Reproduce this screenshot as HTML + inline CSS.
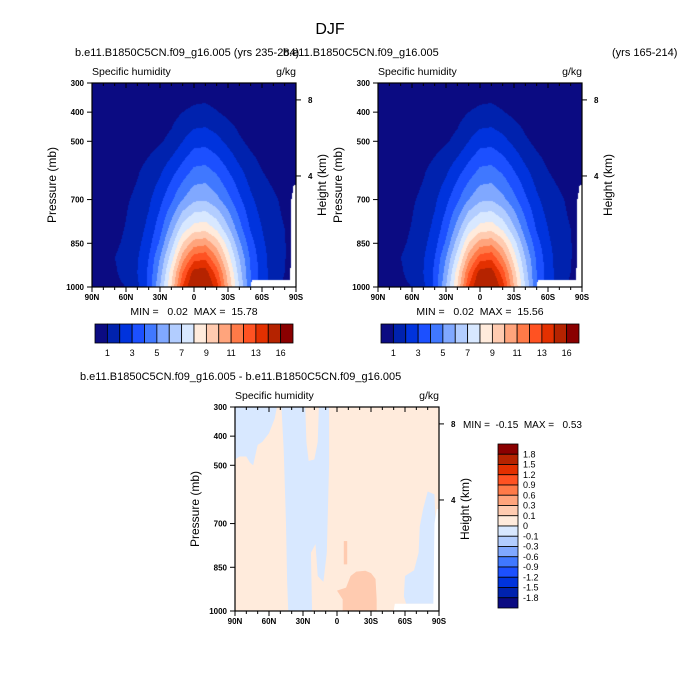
<!DOCTYPE html>
<html><head><meta charset="utf-8"><style>
html,body{margin:0;padding:0;background:#fff;}
#wrap{position:relative;width:680px;height:698px;overflow:hidden;font-family:"Liberation Sans",Arial,sans-serif;}
canvas{position:absolute;}
svg{position:absolute;left:0;top:0;}
text{white-space:pre;}
</style></head><body>
<div id="wrap">
<canvas id="c1" width="204" height="204" style="left:92px;top:83px"></canvas>
<canvas id="c2" width="204" height="204" style="left:378px;top:83px"></canvas>
<svg id="s" width="680" height="698"></svg>
</div>
<script>
const lats=[90,80,70,60,50,40,30,20,10,0,-10,-20,-30,-40,-50,-60,-70,-80,-90];
const plev=[300,400,500,600,700,800,850,900,950,1000];
const q300=[0.05,0.05,0.05,0.05,0.1,0.1,0.15,0.2,0.3,0.4,0.45,0.35,0.25,0.15,0.1,0.05,0.05,0.05,0.05];
const q400=[0.05,0.05,0.1,0.1,0.2,0.3,0.45,0.65,1.0,1.2,1.25,1.05,0.75,0.5,0.3,0.2,0.1,0.1,0.05];
const q500=[0.1,0.1,0.2,0.3,0.45,0.65,0.9,1.25,2.0,2.6,2.7,2.3,1.75,1.15,0.75,0.5,0.3,0.2,0.1];
const q600=[0.1,0.2,0.35,0.6,0.9,1.3,1.8,2.6,3.4,4.2,4.3,3.8,3.0,2.2,1.5,1.0,0.7,0.45,0.1];
const q700=[0.2,0.3,0.55,0.9,1.2,1.8,2.7,3.8,5,5.8,5.9,5.3,4.3,3.2,2.2,1.5,1.15,0.8,0.2];
const q800=[0.3,0.45,0.75,1.05,1.5,2.3,3.6,5.5,7.5,8.5,8.7,7.8,6.2,4.4,2.9,2.0,1.3,1.0,0.3];
const q850=[0.3,0.5,0.85,1.15,1.7,2.6,4.2,6.5,9,10.5,10.7,9.5,7.5,5.2,3.4,2.2,1.45,1.05,0.4];
const q900=[0.3,0.6,1.0,1.3,1.9,3,5,7.5,10.5,12.5,12.8,11,8.5,6,3.8,2.4,1.5,1.05,0.4];
const q950=[0.3,0.6,0.9,1.3,2,3.2,5.5,8.5,12,14.5,14.5,12.5,9.5,6.5,4,2.5,1.5,1.0,0.4];
const q1000=[0.3,0.5,0.8,1.0,1.8,3.2,6,9,13,15.5,15.5,13.5,10,7,4,2.5,1.5,0.8,0.3];
const qGrid=[q300,q400,q500,q600,q700,q800,q850,q900,q950,q1000];
const qEdges=[1,2,3,4,5,6,7,8,9,10,11,12,13,14,16];
const qColors=["#0B0B82","#0022AE","#0033DD","#1C50FF","#4078FF","#80A8FF","#B2CDFF","#D8E8FF","#FFEBDC","#FFCBB0","#FFA47C","#FF7A48","#FF5222","#E33000","#B52300","#8A0000"];
const qLabels=["1","3","5","7","9","11","13","16"];
const sfcLat=[-50,-51,-85,-86,-88,-90];
const sfcP=[1000,975,975,700,650,650];
const dEdges=[1.8,1.5,1.2,0.9,0.6,0.3,0.1,0,-0.1,-0.3,-0.6,-0.9,-1.2,-1.5,-1.8];
const dColors=["#8A0000","#B52300","#E33000","#FF5222","#FF7A48","#FFA47C","#FFCBB0","#FFEBDC","#D8E8FF","#B2CDFF","#80A8FF","#4078FF","#1C50FF","#0033DD","#0022AE","#0B0B82"];
const diffBlueA=[[90,300],[53,300],[55,340],[60,390],[66,420],[70,430],[74,500],[77,490],[80,470],[86,470],[90,480]];
const diffBlueB=[[49,300],[47,450],[45,700],[44,900],[43,1000],[22,1000],[23,800],[19,770],[17,880],[12,900],[9,800],[8,650],[7,500],[7,300],[16,300],[17,420],[20,480],[25,485],[27,420],[28,300]];
const diffBlueD=[[-80,590],[-76,650],[-73,711],[-72,800],[-68,860],[-60,880],[-59,950],[-61,975],[-90,975],[-90,700],[-87,700],[-86,600]];
const diffPeach=[[-5,1000],[-5,960],[0,930],[-8,920],[-12,880],[-17,865],[-25,862],[-30,870],[-34,890],[-35,960],[-35,1000]];
const diffPeach2=[[-6,760],[-9,760],[-9,840],[-6,840]];
const latTicks=[90,60,30,0,-30,-60,-90];
const latLabels=["90N","60N","30N","0","30S","60S","90S"];
const pTicks=[300,400,500,700,850,1000];
const kmTicks=[8,4];
const kmP=[358,619];

const NS="http://www.w3.org/2000/svg";
const svg=document.getElementById('s');
function mk(tag,attrs,parent){const e=document.createElementNS(NS,tag);for(const k in attrs)e.setAttribute(k,attrs[k]);(parent||svg).appendChild(e);return e;}
function txt(x,y,s,size,anchor,name,extra){const t=mk('text',Object.assign({x:x,y:y,'font-size':size,'text-anchor':anchor||'start','font-family':'Liberation Sans, Arial, sans-serif',fill:'#000'},extra||{}));t.textContent=s;


return t;}
function interp1(xs,ys,x){if(x>=xs[0])return ys[0];for(let i=0;i<xs.length-1;i++){if(x<=xs[i]&&x>=xs[i+1]){const f=(xs[i]-x)/(xs[i]-xs[i+1]);return ys[i]+f*(ys[i+1]-ys[i]);}}return ys[ys.length-1];}
function sfc(lat){return interp1(sfcLat,sfcP,lat);}
function qAt(lat,p){let i=0;while(i<lats.length-2&&lat<lats[i+1])i++;const fx=(lats[i]-lat)/(lats[i]-lats[i+1]);
let j=0;while(j<plev.length-2&&p>plev[j+1])j++;const fy=(p-plev[j])/(plev[j+1]-plev[j]);
const a=qGrid[j][i],b=qGrid[j][i+1],c=qGrid[j+1][i],d=qGrid[j+1][i+1];return (a*(1-fx)+b*fx)*(1-fy)+(c*(1-fx)+d*fx)*fy;}
function bin(v){let k=0;while(k<qEdges.length&&v>=qEdges[k])k++;return k;}
function hex(h){return [parseInt(h.substr(1,2),16),parseInt(h.substr(3,2),16),parseInt(h.substr(5,2),16)];}
function drawField(id){const c=document.getElementById(id);const ctx=c.getContext('2d');const im=ctx.createImageData(204,204);
for(let py=0;py<204;py++){const p=300+(py+0.5)/204*700;for(let px=0;px<204;px++){const lat=90-(px+0.5)/204*180;let col=[255,255,255];
if(p<=sfc(lat))col=hex(qColors[bin(qAt(lat,p))]);const o=(py*204+px)*4;im.data[o]=col[0];im.data[o+1]=col[1];im.data[o+2]=col[2];im.data[o+3]=255;}}
ctx.putImageData(im,0,0);}
drawField('c1');drawField('c2');

function axes(X0,Y0,W,H,prefix,label){
  const xs=lat=>X0+(90-lat)/180*W, ys=p=>Y0+(p-300)/700*H;
  for(let l=90;l>=-90;l-=10){const major=(l%30===0);const len=major?5:3;
    const t1=mk('line',{x1:xs(l),x2:xs(l),y1:Y0,y2:Y0+len,stroke:'#000','stroke-width':1});
    
    
    const t2=mk('line',{x1:xs(l),x2:xs(l),y1:Y0+H,y2:Y0+H+len,stroke:'#000','stroke-width':1});
    
    }
  latTicks.forEach((l,i)=>{txt(xs(l),Y0+H+13,latLabels[i],8,'middle',prefix+'-x-tick-label',{'font-weight':'bold'});});
  pTicks.forEach(p=>{const t=mk('line',{x1:X0-5,x2:X0,y1:ys(p),y2:ys(p),stroke:'#000'});
    
    
    txt(X0-8,ys(p)+3,String(p),8,'end',prefix+'-y-tick-label',{'font-weight':'bold'});});
  kmTicks.forEach((k,i)=>{const t=mk('line',{x1:X0+W,x2:X0+W+5,y1:ys(kmP[i]),y2:ys(kmP[i]),stroke:'#000'});
    
    
    txt(X0+W+12,ys(kmP[i])+3,String(k),8,'start',prefix+'-height-tick-label',{'font-weight':'bold'});});
  const b=mk('rect',{x:X0,y:Y0,width:W,height:H,fill:'none',stroke:'#000','stroke-width':1.2});
  
  
  txt(X0,Y0-8,'Specific humidity',10.5,'start',prefix+'-left-string');
  txt(X0+W,Y0-8,'g/kg',10.5,'end',prefix+'-units');
  const cy=Y0+H/2;
  txt(X0-36,cy,'Pressure (mb)',12,'middle',prefix+'-y-axis-title',{transform:`rotate(-90 ${X0-36} ${cy})`});
  txt(X0+W+30,cy,'Height (km)',12,'middle',prefix+'-height-axis-title',{transform:`rotate(-90 ${X0+W+30} ${cy})`});
  if(label)txt(X0+W/2,Y0+H+28,label,10.5,'middle',prefix+'-min-max',{'xml:space':'preserve'});
  return {xs,ys};
}
const DX=235,DY=407,DW=204,DH=204;
const dxs=lat=>DX+(90-lat)/180*DW, dys=p=>DY+(p-300)/700*DH;
const cp=mk('clipPath',{id:'dclip'});mk('rect',{x:DX,y:DY,width:DW,height:DH},cp);
const g=mk('g',{'clip-path':'url(#dclip)'});


const bg=mk('rect',{x:DX,y:DY,width:DW,height:DH,fill:dColors[7]},g);


function poly(pts,fill,name){const e=mk('polygon',{points:pts.map(q=>dxs(q[0])+','+dys(q[1])).join(' '),fill:fill},g);

}
poly(diffBlueA,dColors[8],'diff-negative-region-north');
poly(diffBlueB,dColors[8],'diff-negative-region-tropics');
poly(diffBlueD,dColors[8],'diff-negative-region-south');
poly(diffPeach,dColors[6],'diff-positive-region-surface');
poly(diffPeach2,dColors[6],'diff-positive-blob');
const wp=[];for(let l=-50;l>=-90;l-=1)wp.push([l,sfc(l)]);wp.push([-90,1000],[-50,1000]);
poly(wp,'#fff','diff-missing-region');

axes(92,83,204,204,'left-panel','MIN =   0.02  MAX =  15.78');
axes(378,83,204,204,'right-panel','MIN =   0.02  MAX =  15.56');
axes(DX,DY,DW,DH,'diff-panel',null);

txt(330,34,'DJF',16,'middle','main-title');
txt(75,56,'b.e11.B1850C5CN.f09_g16.005 (yrs 235-284)',11,'start','left-panel-title');
txt(283,56,'b.e11.B1850C5CN.f09_g16.005',11,'start','right-panel-title');
txt(612,56,'(yrs 165-214)',11,'start','right-panel-years');
txt(80,380,'b.e11.B1850C5CN.f09_g16.005 - b.e11.B1850C5CN.f09_g16.005',11,'start','diff-panel-title');
txt(463,428,'MIN =  -0.15  MAX =   0.53',10,'start','diff-min-max',{'xml:space':'preserve'});

function hbar(x0,prefix){const w=198/16;
  qColors.forEach((c,i)=>{const r=mk('rect',{x:x0+i*w,y:324,width:w,height:19,fill:c,stroke:'#000','stroke-width':0.8});
    
    });
  qLabels.forEach((s,i)=>{txt(x0+(2*i+1)*w,356,s,9,'middle',prefix+'-colorbar-label');});}
hbar(95,'left');hbar(381,'right');
(function(){const h=164/16;dColors.forEach((c,i)=>{const r=mk('rect',{x:498,y:444+i*h,width:20,height:h,fill:c,stroke:'#000','stroke-width':0.8});
  
  });
  dEdges.forEach((v,i)=>{txt(523,444+(i+1)*h+3,String(v),9,'start','diff-colorbar-label');});})();
</script>
</body></html>
